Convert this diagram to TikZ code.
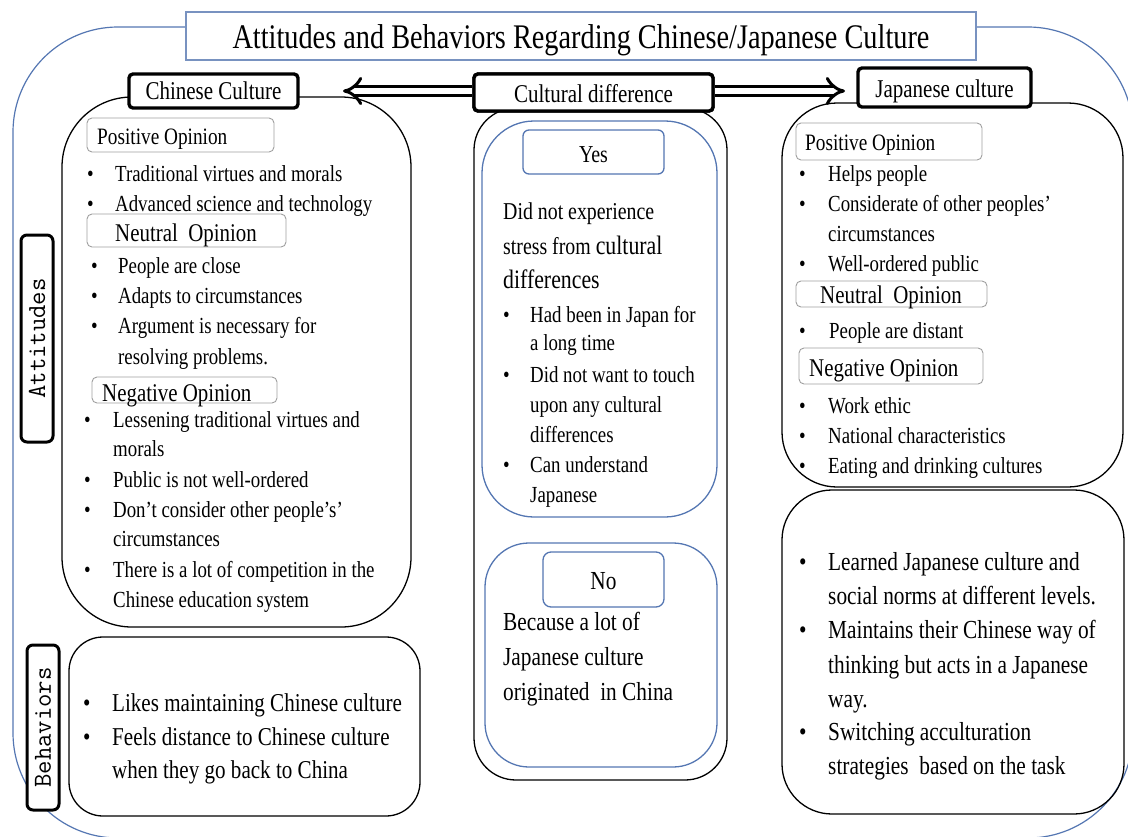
\documentclass[tikz,border=0pt]{standalone}
\usepackage{fontspec}
\setmainfont{Liberation Serif}[FakeStretch=0.82]
\usetikzlibrary{arrows.meta,fit}
\definecolor{blueln}{RGB}{84,118,178}
\definecolor{titleln}{RGB}{120,146,192}
\newcounter{ln}
\newcommand\fs[1]{\fontsize{#1}{#1}\selectfont}
\def\cursz{23}
\newcommand\bline[4]{\stepcounter{ln}%
  \node[txt] (bu\theln) at (#1,#3) {\textbullet};%
  \node[txt] (tx\theln) at (#2,#3) {#4};}
\newcommand\tline[3]{\stepcounter{ln}\node[txt] (tx\theln) at (#1,#2) {#3};}
\tikzset{
  txt/.style={inner sep=0pt, anchor=base west, font=\fs{\cursz}},
  ctr/.style={inner sep=0pt, anchor=base},
  outerln/.style={draw=blueln, line width=1.2pt, rounded corners=105pt},
  titlebox/.style={draw=titleln, line width=1.5pt, fill=white, inner sep=0pt},
  bigbox/.style={draw=black, line width=1.3pt, inner sep=0pt},
  bluebox/.style={draw=blueln, line width=1.3pt, inner sep=0pt},
  opbox/.style={draw=gray!75, line width=0.9pt, rounded corners=5pt, inner sep=0pt},
  hdr/.style={draw=black, line width=3.4pt, fill=white, rounded corners=4pt, inner sep=0pt},
  sidelbl/.style={draw=black, line width=3pt, fill=white, rounded corners=6pt, inner sep=0pt},
  sidetxt/.style={rotate=90, inner sep=0pt, font=\ttfamily\fs{26}},
  dbl/.style={draw=black, line width=3pt, double=white, double distance=6.5pt, -{Implies}},
}
\begin{document}
\begin{tikzpicture}[x=1pt,y=-1pt]
\useasboundingbox (0,0) rectangle (1128,836);
\begin{scope}
\clip (0,0) rectangle (1128,836);
\draw[outerln] (13,27) rectangle (1133,838);
\end{scope}
% title
\node[titlebox, fit={(186,12)(976,60)}] (tbox) {};
\node[ctr, font=\fs{34.5}] (title) at (581,48) {Attitudes and Behaviors Regarding Chinese/Japanese Culture};

% big containers
\node[bigbox, rounded corners=70pt, fit={(62,97)(411,627)}] (lat) {};
\node[bigbox, rounded corners=34pt, fit={(69,637)(420,816)}] (lbe) {};
\node[bigbox, rounded corners=42pt, fit={(474,108)(727,780)}] (cen) {};
\node[bluebox, rounded corners=52pt, fit={(482,121)(717,517)}] (yesin) {};
\node[bluebox, rounded corners=44pt, fit={(485,543)(717,767)}] (noin) {};
\node[bigbox, rounded corners=55pt, fit={(782,103)(1123,487)}] (rat) {};
\node[bigbox, rounded corners=50pt, fit={(782,490)(1124,814)}] (rbe) {};

% side labels
\node[sidelbl, fit={(21,235)(53,442)}] (attbox) {};
\node[sidetxt] (att) at (attbox.center) {Attitudes};
\node[sidelbl, fit={(27,645)(59,810)}] (behbox) {};
\node[sidetxt] (beh) at (behbox.center) {Behaviors};

% header + arrows
\node[hdr, fit={(474,74)(713,111)}] (cd) {};
\coordinate (ltip) at (343,91);
\coordinate (rtip) at (845,91);
\draw[dbl] (cd.west |- ltip) -- (ltip);
\draw[dbl] (cd.east |- rtip) -- (rtip);
\node[hdr, fit={(474,74)(713,111)}] (cd2) {};
\node[ctr, font=\fs{25.6}] (cdt) at (593.5,102) {Cultural difference};
\node[hdr, fit={(129,74)(298,108)}] (cc) {};
\node[ctr, font=\fs{25.6}] (cct) at (213.5,99) {Chinese Culture};
\node[hdr, fit={(858,68)(1031,107)}] (jc) {};
\node[ctr, font=\fs{25.6}] (jct) at (944.5,97) {Japanese culture};

% ---- left attitudes
\node[opbox, fit={(87,118)(274,152)}] (lpos) {};
\node[txt, font=\fs{23.5}] (lpost) at (97,144) {Positive Opinion};
\def\cursz{23}
\bline{87}{115}{181}{Traditional virtues and morals}
\bline{87}{115}{211}{Advanced science and technology}
\node[opbox, fit={(87,214)(286,247)}] (lneu) {};
\node[txt, font=\fs{25.5}] (lneut) at (115,241) {Neutral\ \ Opinion};
\bline{91}{118}{273}{People are close}
\bline{91}{118}{303}{Adapts to circumstances}
\bline{91}{118}{333}{Argument is necessary for}
\tline{118}{364}{resolving problems.}
\node[opbox, fit={(92,377)(277,403)}] (lneg) {};
\node[txt, font=\fs{25.5}] (lnegt) at (102,401) {Negative\ Opinion};
\bline{84}{113}{427}{Lessening traditional virtues and}
\tline{113}{456}{morals}
\bline{84}{113}{487}{Public is not well-ordered}
\bline{84}{113}{517}{Don't consider other people's'}
\tline{113}{546}{circumstances}
\bline{84}{113}{577}{There is a lot of competition in the}
\tline{113}{607}{Chinese education system}

% ---- left behaviors
\def\cursz{25.7}
\bline{83}{112}{711}{Likes maintaining\ Chinese culture}
\bline{83}{112}{745}{Feels distance to Chinese culture}
\tline{112}{778}{when they go back to China}

% ---- center
\node[draw=blueln, line width=1.3pt, rounded corners=6pt, inner sep=0pt, fill=white, fit={(523,130)(664,174)}] (yes) {};
\node[ctr, font=\fs{24.3}] (yest) at (593.5,162) {Yes};
\def\cursz{24.2}
\tline{503}{219}{Did not experience}
\tline{503}{254}{stress from {\fs{26.6}cultural}}
\def\cursz{26.6}
\tline{503}{288}{differences}
\def\cursz{23}
\bline{503}{530}{322}{Had been in Japan for}
\tline{530}{350}{a long time}
\bline{503}{530}{382}{Did not want to touch}
\tline{530}{412}{upon any cultural}
\tline{530}{442}{differences}
\bline{503}{530}{472}{Can understand}
\tline{530}{502}{Japanese}
\node[draw=blueln, line width=1.3pt, rounded corners=8pt, inner sep=0pt, fill=white, fit={(543,552)(664,607)}] (no) {};
\node[ctr, font=\fs{26}] (not) at (603.5,589) {No};
\def\cursz{26}
\tline{503}{630}{Because a lot of}
\tline{503}{665}{Japanese culture}
\tline{503}{700}{originated\ \ in China}

% ---- right attitudes
\node[opbox, fit={(796,123)(982,160)}] (rpos) {};
\node[txt, font=\fs{23.5}] (rpost) at (805,150) {Positive Opinion};
\def\cursz{23}
\bline{799}{828}{181}{Helps people}
\bline{799}{828}{211}{Considerate of other peoples'}
\tline{828}{241}{circumstances}
\bline{799}{828}{271}{Well-ordered public}
\node[opbox, fit={(796,281)(987,307)}] (rneu) {};
\node[txt, font=\fs{25.5}] (rneut) at (820,303) {Neutral\ \ Opinion};
\bline{799}{829}{338}{People are distant}
\node[opbox, fit={(799,348)(983,384)}] (rneg) {};
\node[txt, font=\fs{25.5}] (rnegt) at (809,376) {Negative\ Opinion};
\bline{799}{828}{413}{Work ethic}
\bline{799}{828}{443}{National characteristics}
\bline{799}{828}{473}{Eating and drinking cultures}

% ---- right behaviors
\def\cursz{26}
\bline{799}{828}{570}{Learned Japanese culture and}
\tline{828}{604}{social norms at different levels.}
\bline{799}{828}{638}{Maintains their Chinese way of}
\tline{828}{673}{thinking but acts in a Japanese}
\tline{828}{707}{way.}
\bline{799}{828}{740}{Switching acculturation}
\tline{828}{774}{strategies\ \ based on the task}
\end{tikzpicture}
\end{document}
